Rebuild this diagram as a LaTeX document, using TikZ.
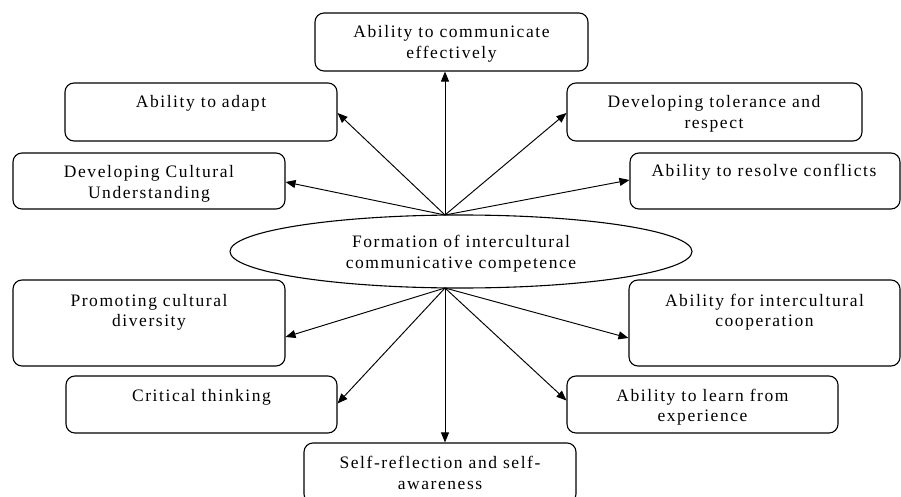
\documentclass[tikz,border=0pt]{standalone}
\usepackage{fontspec}
\setmainfont{Liberation Serif}
\newfontfamily\lsfont{Liberation Serif}[LetterSpace=9]
\usetikzlibrary{arrows.meta,shapes.geometric}
\begin{document}
\begin{tikzpicture}[x=1pt,y=-1pt,
  box/.style={draw, line width=1.1pt, rounded corners=9pt, inner sep=0pt},
  txt/.style={anchor=north, inner sep=0pt, align=center, font=\lsfont\fontsize{17.5}{20.5}\selectfont},
  arr/.style={line width=0.95pt, -{Triangle[length=10pt,width=8pt]}}]
\useasboundingbox (0,0) rectangle (901,497);
\fill[white] (0,0) rectangle (901,497);
% boxes
\node[box, minimum width=273pt, minimum height=58pt] (comm) at (451.5,42) {};
\node[box, minimum width=272pt, minimum height=58pt] (adapt) at (201,112) {};
\node[box, minimum width=272pt, minimum height=56pt] (cult) at (149,181) {};
\node[box, minimum width=295pt, minimum height=58pt] (tol) at (714.5,112) {};
\node[box, minimum width=270pt, minimum height=56pt] (resolve) at (765,181) {};
\node[box, minimum width=272pt, minimum height=86pt] (promo) at (149,323) {};
\node[box, minimum width=271pt, minimum height=86pt] (coop) at (764.5,323) {};
\node[box, minimum width=271pt, minimum height=57pt] (crit) at (201.5,404.5) {};
\node[box, minimum width=271pt, minimum height=57pt] (learn) at (702.5,404.5) {};
\node[box, minimum width=272pt, minimum height=60pt] (self) at (440,473) {};
\node[draw, line width=1.1pt, ellipse, inner sep=0pt, minimum width=462pt, minimum height=73pt] (core) at (461,251.5) {};
% texts
\node[txt] (commT) at (451.5,23) {\strut Ability to communicate\\effectively};
\node[txt] (adaptT) at (201,93) {\strut Ability to adapt};
\node[txt] (cultT) at (149,163) {\strut Developing Cultural\\Understanding};
\node[txt] (tolT) at (714,93) {\strut Developing tolerance and\\respect};
\node[txt] (resolveT) at (764,162) {\strut Ability to resolve conflicts};
\node[txt] (promoT) at (149,291.5) {\strut Promoting cultural\\diversity};
\node[txt] (coopT) at (764.5,291.5) {\strut Ability for intercultural\\cooperation};
\node[txt] (critT) at (201.5,387) {\strut Critical thinking};
\node[txt] (learnT) at (702.5,386.5) {\strut Ability to learn from\\experience};
\node[txt] (selfT) at (440,454) {\strut Self-reflection and self-\\awareness};
\node[txt] (coreT) at (461,233) {\strut Formation of intercultural\\communicative competence};
% hubs
\coordinate (hubT) at (445,215);
\coordinate (hubB) at (445,288);
% arrows
\draw[arr] (hubT) -- (hubT |- comm.south);
\draw[arr] (hubT) -- ([yshift=-1pt]adapt.east);
\draw[arr] (hubT) -- ([yshift=-1pt]cult.east);
\draw[arr] (hubT) -- ([yshift=-1pt]tol.west);
\draw[arr] (hubT) -- ([yshift=1pt]resolve.west);
\draw[arr] (hubB) -- ([yshift=-14pt]promo.east);
\draw[arr] (hubB) -- ([yshift=-15pt]coop.west);
\draw[arr] (hubB) -- ([yshift=1pt]crit.east);
\draw[arr] (hubB) -- ([yshift=4pt]learn.west);
\draw[arr] (hubB) -- (hubB |- self.north);
\end{tikzpicture}
\end{document}
